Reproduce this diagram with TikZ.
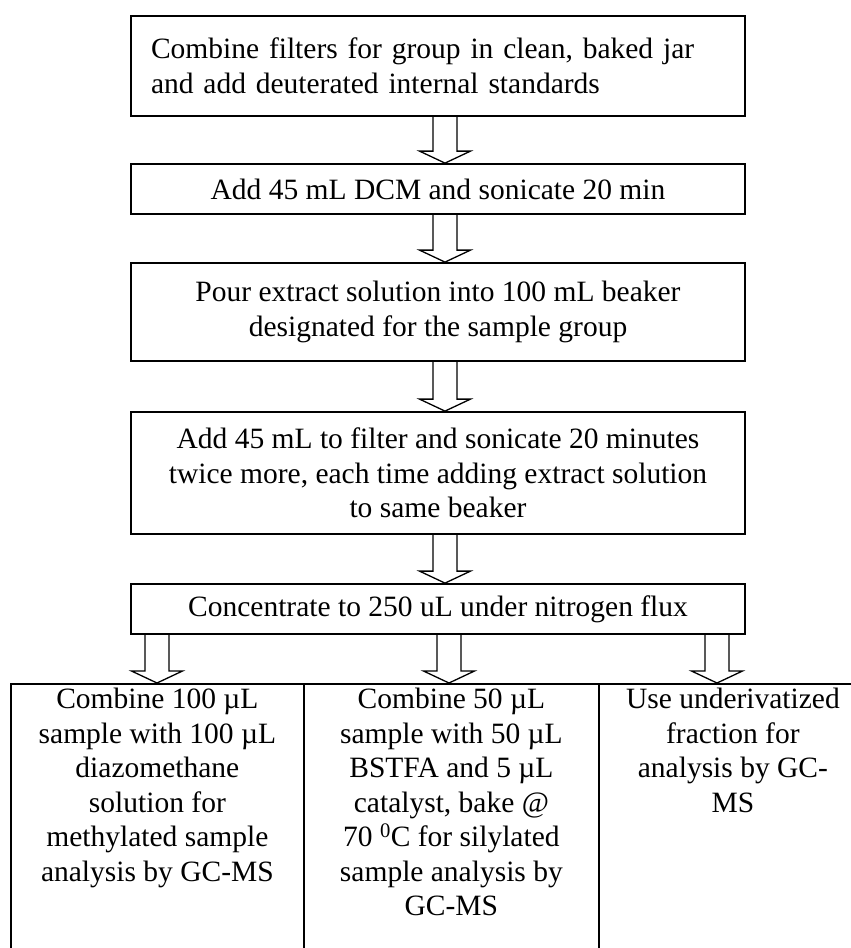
\documentclass[tikz,border=0pt]{standalone}
\usepackage{fontspec}
\setmainfont{Liberation Serif}
\usetikzlibrary{calc}

\tikzset{
  procbox/.style={draw, line width=1.8pt, minimum width=614pt, align=center,
    font=\fontsize{29.5}{34.5}\selectfont},
  colbox/.style={draw, line width=1.8pt, minimum height=277pt, anchor=north west},
  coltext/.style={anchor=north, align=center, inner ysep=5pt,
    font=\fontsize{29.5}{34.5}\selectfont},
  flowline/.style={line width=1.3pt, line join=miter},
}

% hollow block arrow: #1 x position, #2 from node, #3 to node
\newcommand{\flowarrow}[3]{%
  \draw[flowline] ($(#1 |- #2.south)+(-12,0)$) -- ($(#1 |- #3.north)+(-12,12)$)
    -- ($(#1 |- #3.north)+(-25.5,12)$) -- (#1 |- #3.north)
    -- ($(#1 |- #3.north)+(25.5,12)$) -- ($(#1 |- #3.north)+(12,12)$)
    -- ($(#1 |- #2.south)+(12,0)$);}

\begin{document}
\begin{tikzpicture}[x=1pt,y=1pt]

    \useasboundingbox (0,0) rectangle (851,-948);

    %% Extraction steps

    % Combine filters
    \node[procbox, align=left, text width=574pt, inner xsep=20pt, minimum height=100pt] (combine) at (438,-66)
        {Combine filters for group in clean, baked jar\\and add deuterated internal standards};

    % Sonicate
    \node[procbox, minimum height=50pt] (sonicate) at (438,-189) {Add 45 mL DCM and sonicate 20 min};

    % Pour into beaker
    \node[procbox, minimum height=98pt] (pour) at (438,-312)
        {Pour extract solution into 100 mL beaker\\designated for the sample group};

    % Repeat twice
    \node[procbox, minimum height=122pt] (repeat) at (438,-473)
        {Add 45 mL to filter and sonicate 20 minutes\\twice more, each time adding extract solution\\to same beaker};

    % Concentrate
    \node[procbox, minimum height=50pt] (conc) at (438,-609) {Concentrate to 250 uL under nitrogen flux};

    %% Three fractions

    % Frames
    \node[colbox, minimum width=293pt] (methyl) at (10,-683) {};
    \node[colbox, minimum width=295pt] (silyl) at (303,-683) {};
    \node[colbox, minimum width=268pt] (underiv) at (598,-683) {};

    % Texts
    \node[coltext] (methyltext) at (methyl.north)
        {Combine 100 µL\\sample with 100 µL\\diazomethane\\solution for\\methylated sample\\analysis by GC-MS};
    \node[coltext] (silyltext) at (silyl.north)
        {Combine 50 µL\\sample with 50 µL\\BSTFA and 5 µL\\catalyst, bake @\\70 \textsuperscript{0}C for silylated\\sample analysis by\\GC-MS};
    \node[coltext] (underivtext) at (underiv.north)
        {Use underivatized\\fraction for\\analysis by GC-\\MS};

    %% Arrows
    \coordinate (xmain) at (445,0);
    \coordinate (xleft) at (157,0);
    \coordinate (xmid) at (449,0);
    \coordinate (xright) at (717,0);

    \flowarrow{xmain}{combine}{sonicate}
    \flowarrow{xmain}{sonicate}{pour}
    \flowarrow{xmain}{pour}{repeat}
    \flowarrow{xmain}{repeat}{conc}
    \flowarrow{xleft}{conc}{methyl}
    \flowarrow{xmid}{conc}{silyl}
    \flowarrow{xright}{conc}{underiv}

\end{tikzpicture}
\end{document}
